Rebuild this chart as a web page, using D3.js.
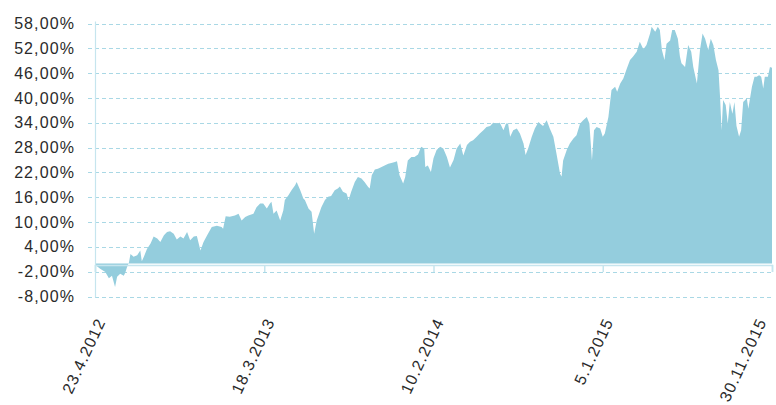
<!DOCTYPE html>
<html><head><meta charset="utf-8">
<script src="https://cdn.jsdelivr.net/npm/d3@7"></script>
<style>
html,body{margin:0;padding:0;background:#fff;}
svg{display:block;}
text{font-family:"Liberation Sans",Arial,sans-serif;}
</style></head>
<body><svg id="chart" width="776" height="405"></svg>
<script>
const dates = [
"2012-04-23","2012-05-03","2012-05-13","2012-05-20","2012-05-26","2012-06-01","2012-06-05","2012-06-11","2012-06-18","2012-06-21",
"2012-06-24","2012-06-28","2012-07-01","2012-07-07","2012-07-14","2012-07-20","2012-07-23","2012-07-27","2012-08-02","2012-08-09",
"2012-08-15","2012-08-22","2012-08-28","2012-09-04","2012-09-10","2012-09-16","2012-09-23","2012-09-29","2012-10-06","2012-10-12",
"2012-10-19","2012-10-25","2012-11-01","2012-11-07","2012-11-14","2012-11-20","2012-11-27","2012-12-06","2012-12-16","2012-12-25",
"2012-12-28","2013-01-02","2013-01-10","2013-01-20","2013-01-27","2013-02-02","2013-02-09","2013-02-15","2013-02-25","2013-03-03",
"2013-03-10","2013-03-16","2013-03-23","2013-03-29","2013-04-01","2013-04-05","2013-04-11","2013-04-18","2013-04-24","2013-04-27",
"2013-05-04","2013-05-10","2013-05-17","2013-05-20","2013-05-27","2013-06-02","2013-06-05","2013-06-12","2013-06-18","2013-06-23",
"2013-06-28","2013-07-07","2013-07-14","2013-07-20","2013-07-26","2013-08-02","2013-08-08","2013-08-12","2013-08-18","2013-08-25",
"2013-08-29","2013-09-03","2013-09-10","2013-09-16","2013-09-23","2013-09-29","2013-10-06","2013-10-09","2013-10-13","2013-10-19",
"2013-10-25","2013-11-01","2013-11-07","2013-11-14","2013-11-20","2013-11-27","2013-12-01","2013-12-06","2013-12-13","2013-12-17",
"2013-12-22","2013-12-29","2014-01-04","2014-01-11","2014-01-17","2014-01-23","2014-01-25","2014-01-30","2014-02-05","2014-02-10",
"2014-02-16","2014-02-23","2014-03-01","2014-03-08","2014-03-14","2014-03-21","2014-03-27","2014-04-03","2014-04-09","2014-04-16",
"2014-04-22","2014-04-28","2014-05-05","2014-05-11","2014-05-18","2014-05-24","2014-05-31","2014-06-06","2014-06-13","2014-06-19",
"2014-06-26","2014-07-01","2014-07-05","2014-07-09","2014-07-15","2014-07-22","2014-07-28","2014-08-04","2014-08-08","2014-08-13",
"2014-08-20","2014-08-26","2014-09-02","2014-09-05","2014-09-11","2014-09-18","2014-09-24","2014-10-01","2014-10-07","2014-10-14",
"2014-10-17","2014-10-20","2014-10-27","2014-11-02","2014-11-09","2014-11-15","2014-11-22","2014-11-28","2014-12-05","2014-12-10",
"2014-12-15","2014-12-19","2014-12-24","2014-12-31","2015-01-05","2015-01-09","2015-01-16","2015-01-22","2015-01-29","2015-02-02",
"2015-02-08","2015-02-14","2015-02-21","2015-02-27","2015-03-05","2015-03-12","2015-03-18","2015-03-25","2015-03-31","2015-04-07",
"2015-04-10","2015-04-17","2015-04-22","2015-04-26","2015-04-30","2015-05-05","2015-05-09","2015-05-16","2015-05-20","2015-05-25",
"2015-05-31","2015-06-04","2015-06-07","2015-06-14","2015-06-20","2015-06-26","2015-06-30","2015-07-07","2015-07-13","2015-07-18",
"2015-07-23","2015-07-29","2015-08-03","2015-08-08","2015-08-13","2015-08-18","2015-08-21","2015-08-24","2015-08-27","2015-09-01",
"2015-09-05","2015-09-09","2015-09-14","2015-09-18","2015-09-22","2015-09-27","2015-10-01","2015-10-05","2015-10-12","2015-10-15",
"2015-10-22","2015-10-27","2015-10-31","2015-11-05","2015-11-09","2015-11-13","2015-11-16","2015-11-22","2015-11-26","2015-11-30"
];
const values = [
-0.3,-1.3,-2.1,-3.6,-3.0,-5.7,-3.2,-2.5,-3.0,-2.2,
-1.0,0.2,2.3,1.6,2.0,3.1,0.5,1.6,3.5,4.8,
6.5,6.0,5.2,6.8,7.6,7.8,7.2,5.8,6.5,6.0,
7.6,5.6,6.5,6.6,3.1,5.2,6.8,8.8,9.1,8.8,
8.4,11.4,11.3,11.6,12.0,10.4,11.2,11.6,12.0,13.6,
14.5,14.5,13.3,14.5,14.9,12.0,12.8,10.4,12.8,15.3,
16.5,17.7,18.9,19.7,17.7,15.7,15.3,13.3,12.5,7.2,
10.4,13.6,15.3,16.1,16.3,17.7,18.1,18.6,17.3,16.9,
15.3,17.3,19.7,20.9,20.5,19.7,18.5,18.1,21.3,22.7,
22.9,23.3,23.7,24.1,24.3,24.5,24.7,21.3,19.3,20.9,
24.9,25.7,25.7,26.3,28.2,27.8,23.3,23.7,22.1,25.4,
27.4,28.2,27.8,25.7,23.2,25.0,27.8,29.0,26.1,28.6,
29.4,29.8,30.6,31.4,32.2,33.0,33.2,34.0,33.8,34.0,
32.2,33.8,33.8,30.6,32.2,32.6,31.4,29.0,26.2,27.8,
30.6,32.6,34.2,33.8,33.2,34.6,32.6,30.6,26.6,21.7,
21.0,24.9,27.4,29.0,30.2,31.0,33.8,34.6,35.4,33.8,
24.9,32.2,33.0,32.6,30.6,31.4,35.4,41.9,42.7,41.5,
43.5,44.7,47.2,49.2,50.0,51.2,53.6,51.8,52.8,55.6,
57.2,56.0,57.2,56.4,51.6,49.2,53.1,53.9,56.4,56.4,
54.3,50.0,48.4,47.5,52.8,51.2,47.5,43.5,51.6,55.6,
54.3,51.6,54.3,52.8,49.2,46.7,40.3,32.2,39.5,38.3,
33.8,39.0,36.2,39.0,33.2,30.6,32.2,39.0,39.9,37.4,
42.7,45.1,45.1,45.5,45.1,42.3,45.1,45.1,47.5,47.3
];
const yTicks = [-8,-2,4,10,16,22,28,34,40,46,52,58];
const xTickDates = ["2012-04-23","2013-03-18","2014-02-10","2015-01-05","2015-11-30"];
const xTickLabels = ["23.4.2012","18.3.2013","10.2.2014","5.1.2015","30.11.2015"];

const parse = d3.timeParse("%Y-%m-%d");
const data = dates.map((d,i)=>({date:parse(d), v:values[i]}));

const W = 776;
const svg = d3.select("#chart");
const L = 95, R = 772, T = 23.5, B = 296.5;
const x = d3.scaleTime().domain([parse(xTickDates[0]), parse(xTickDates[xTickDates.length-1])]).range([L,R]);
const y = d3.scaleLinear().domain([-8,58]).range([B,T]);

const fmt = v => v.toFixed(2).replace(".", ",") + "%";
const gridColor = "#a9d8e5";
const axisColor = "#c6e5ee";

// gridlines
const gy = svg.append("g");
gy.selectAll("line").data(yTicks).enter().append("line")
  .attr("x1",L-7).attr("x2",R).attr("y1",d=>Math.round(y(d))+0.5).attr("y2",d=>Math.round(y(d))+0.5)
  .attr("stroke",gridColor).attr("stroke-width",1).attr("stroke-dasharray","4,3");

// area
const area = d3.area().x(d=>x(d.date)).y0(y(0)).y1(d=>y(d.v)).curve(d3.curveLinear);
svg.append("path").datum(data).attr("d",area).attr("fill","#94cddd");

// y labels via axis
const ya = svg.append("g").attr("transform",`translate(${L-7},0)`)
  .call(d3.axisLeft(y).tickValues(yTicks).tickSize(0).tickPadding(13).tickFormat(fmt));
ya.select(".domain").remove();
ya.selectAll("text").attr("font-size","16px").attr("fill","#2a2a2a").attr("letter-spacing","1.1px")
  .style("font-family","'Liberation Sans',Arial,sans-serif");

// vertical axis line
svg.append("line").attr("x1",L+0.5).attr("x2",L+0.5).attr("y1",T-2).attr("y2",B+1)
  .attr("stroke",axisColor).attr("stroke-width",1.2);

// x axis at zero
const xa = svg.append("g").attr("transform",`translate(0,${y(0)+1.5})`)
  .call(d3.axisBottom(x).tickValues(xTickDates.map(parse)).tickSize(7).tickFormat(""));
xa.select(".domain").attr("stroke",axisColor).attr("stroke-width",1.5);
xa.selectAll(".tick line").attr("stroke",axisColor).attr("stroke-width",1.5);

// x labels
const gl = svg.append("g");
gl.selectAll("text").data(xTickDates).enter().append("text")
  .attr("transform",(d)=>`translate(${Math.min(x(parse(d))+11, W-9)},${B+25}) rotate(-65)`)
  .attr("text-anchor","end").attr("font-size","16px").attr("fill","#2a2a2a").attr("letter-spacing","1.1px")
  .text((d,i)=>xTickLabels[i]);
</script></body></html>
